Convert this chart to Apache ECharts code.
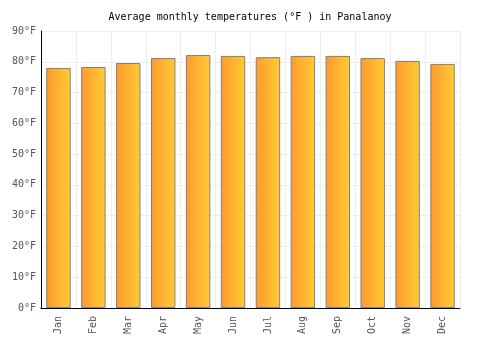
<!DOCTYPE html>
<html>
<head>
<meta charset="utf-8">
<script src="https://cdn.jsdelivr.net/npm/echarts@6/dist/echarts.min.js"></script>
<style>
  html, body { margin: 0; padding: 0; background: #fff; }
  #main { width: 500px; height: 350px; }
</style>
</head>
<body>
<div id="main"></div>
<script>
var months = ["Jan", "Feb", "Mar", "Apr", "May", "Jun", "Jul", "Aug", "Sep", "Oct", "Nov", "Dec"];
var tempsF = [78.0, 78.3, 79.6, 81.2, 82.2, 81.9, 81.5, 81.9, 81.9, 81.2, 80.3, 79.3];

var font = "DejaVu Sans Mono";

var option = {
  animation: false,
  title: {
    text: "Average monthly temperatures (°F ) in Panalanoy",
    left: "center",
    top: 7,
    textStyle: { fontFamily: font, fontSize: 10, fontWeight: "normal", color: "#000" }
  },
  grid: { left: 41, right: 40, top: 31, bottom: 42 },
  xAxis: {
    type: "category",
    data: months,
    axisLine: { lineStyle: { color: "#000", width: 1 } },
    axisTick: { show: false },
    splitLine: { show: true, lineStyle: { color: "#eee" } },
    axisLabel: { rotate: 90, fontFamily: font, fontSize: 10, color: "#555", margin: 8 }
  },
  yAxis: {
    type: "value",
    min: 0,
    max: 90,
    interval: 10,
    axisLine: { show: true, lineStyle: { color: "#000", width: 1 } },
    axisTick: { show: false },
    splitLine: { lineStyle: { color: "#eee" } },
    axisLabel: { formatter: "{value}°F", fontFamily: font, fontSize: 10, color: "#555", margin: 5 }
  },
  series: [{
    type: "bar",
    data: tempsF,
    barWidth: "70%",
    itemStyle: {
      color: new echarts.graphic.LinearGradient(0, 0, 1, 0, [
        { offset: 0, color: "#ff9a2e" },
        { offset: 1, color: "#ffcc33" }
      ]),
      borderColor: "#808080",
      borderWidth: 1
    }
  }]
};

var myChart = echarts.init(document.getElementById("main"));
myChart.setOption(option);
</script>
</body>
</html>
